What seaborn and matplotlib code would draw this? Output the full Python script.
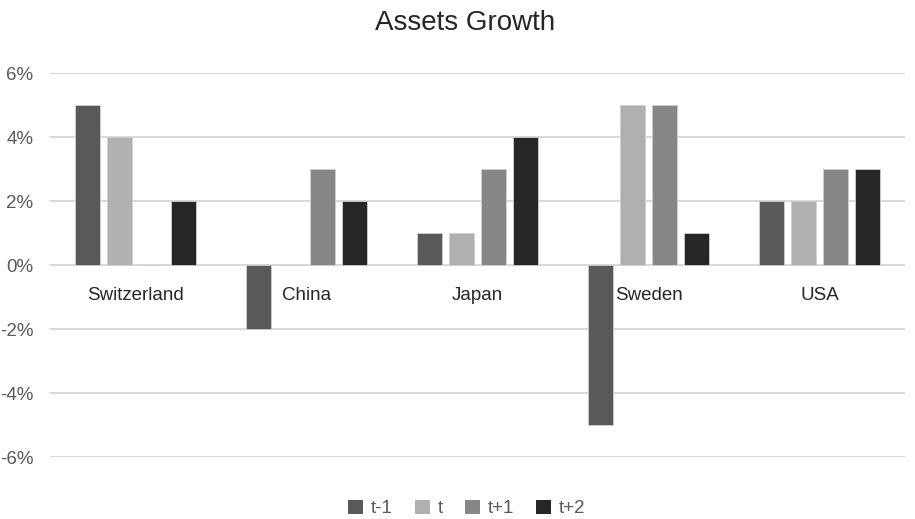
import matplotlib
matplotlib.use("Agg")
import matplotlib.pyplot as plt
import seaborn as sns
import pandas as pd
from matplotlib.ticker import FuncFormatter
from matplotlib.patches import Patch

countries = ["Switzerland", "China", "Japan", "Sweden", "USA"]
periods = ["t-1", "t", "t+1", "t+2"]
t_minus_1 = [5, -2, 1, -5, 2]
t_0 = [4, 0, 1, 5, 2]
t_plus_1 = [0, 3, 3, 5, 3]
t_plus_2 = [2, 2, 4, 1, 3]
colors = ["#595959", "#b0b0b0", "#878787", "#262626"]

series = {"t-1": t_minus_1, "t": t_0, "t+1": t_plus_1, "t+2": t_plus_2}
rows = []
for p in periods:
    for c, v in zip(countries, series[p]):
        rows.append({"country": c, "period": p, "growth": v})
df = pd.DataFrame(rows)

sns.set_theme(style="white")
plt.rcParams["font.family"] = ["Liberation Sans Narrow", "Liberation Sans", "DejaVu Sans"]

fig = plt.figure(figsize=(9.15, 5.19), dpi=100)
ax = fig.add_axes([50 / 915, 1 - 457 / 519, 855 / 915, 384 / 519])

sns.barplot(data=df, x="country", y="growth", hue="period", order=countries,
            hue_order=periods, palette=colors, width=0.75, gap=0.2,
            saturation=1, ax=ax, legend=False, errorbar=None,
            edgecolor="#d0d0d0", linewidth=0.6)

ax.set_ylim(-6, 6)
ax.set_xlim(-0.5, 4.5)
ax.set_yticks(range(-6, 7, 2))
ax.yaxis.set_major_formatter(FuncFormatter(lambda v, _: f"{v:.0f}%"))
ax.tick_params(axis="y", labelsize=13.5, labelcolor="#595959", length=0, pad=12)
ax.set_xticks([])
ax.set_xlabel("")
ax.set_ylabel("")
ax.grid(axis="y", color="#d9d9d9", linewidth=1.5)
ax.set_axisbelow(True)
for s in ax.spines.values():
    s.set_visible(False)

for i, c in enumerate(countries):
    ax.text(i, -0.95, c, ha="center", va="center", fontsize=13.5, color="#262626")

fig.suptitle("Assets Growth", x=0.508, y=0.98, fontsize=20, color="#262626")

handles = [Patch(facecolor=col, edgecolor="none") for col in colors]
fig.legend(handles, periods, loc="center", bbox_to_anchor=(0.51, 0.02),
           ncol=4, frameon=False, fontsize=13.5, handlelength=0.8, handleheight=0.8,
           columnspacing=1.2, handletextpad=0.4, labelcolor="#595959")

fig.savefig("out.png", dpi=100)
